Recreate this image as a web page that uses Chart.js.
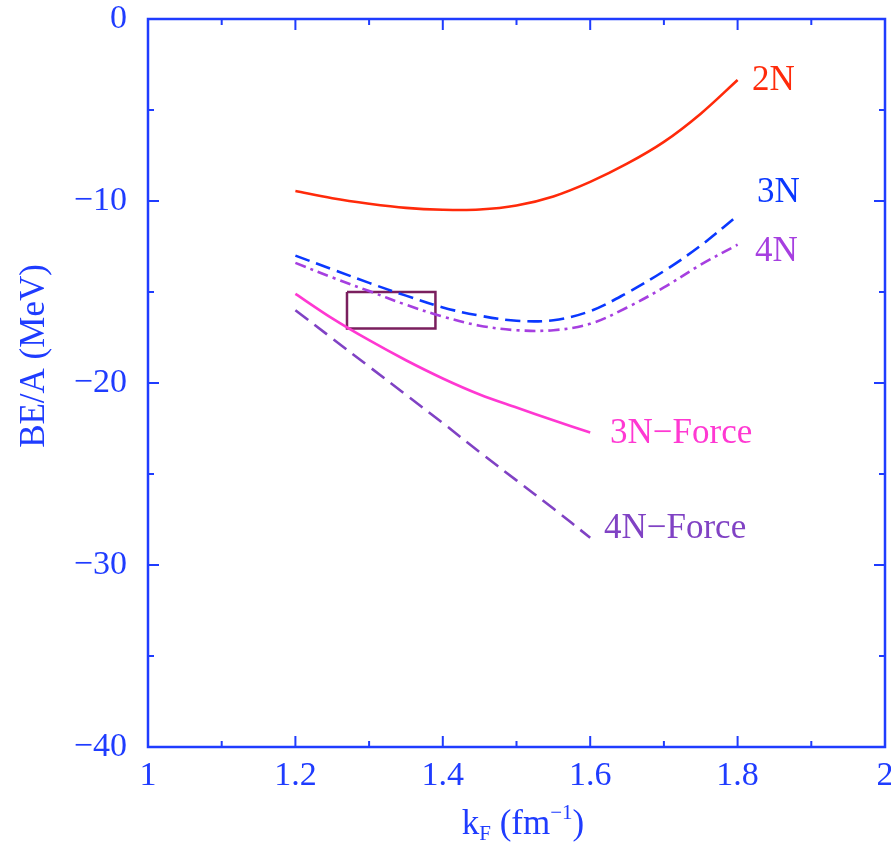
<!DOCTYPE html>
<html>
<head>
<meta charset="utf-8">
<script src="https://cdn.jsdelivr.net/npm/chart.js@4/dist/chart.umd.min.js"></script>
<style>
  html, body { margin: 0; padding: 0; background: #ffffff; }
  #wrap { width: 891px; height: 843px; }
</style>
</head>
<body>
<div id="wrap"><canvas id="c" width="891" height="843"></canvas></div>
<script>
// ---- data ----
const kF = [1.2, 1.25, 1.3, 1.35, 1.4, 1.45, 1.5, 1.55, 1.6, 1.65, 1.7, 1.75, 1.8];
const be2N = [-9.45, -9.85, -10.15, -10.38, -10.48, -10.47, -10.25, -9.75, -8.95, -7.95, -6.75, -5.2, -3.35];
const be3N = [-13.0, -13.75, -14.5, -15.2, -15.85, -16.3, -16.58, -16.55, -16.05, -15.05, -13.85, -12.45, -10.8];
const be4N = [-13.4, -14.2, -14.95, -15.7, -16.35, -16.85, -17.1, -17.1, -16.75, -15.85, -14.75, -13.5, -12.4];

const kFForce = [1.2, 1.25, 1.3, 1.35, 1.4, 1.45, 1.5, 1.55, 1.6];
const be3NForce = [-15.1, -16.45, -17.65, -18.75, -19.75, -20.63, -21.35, -22.05, -22.72];
const be4NForce = [-16.0, -17.55, -19.1, -20.65, -22.2, -23.8, -25.35, -26.9, -28.5];

const boxX = [1.27, 1.39, 1.39, 1.27, 1.27];
const boxY = [-15, -15, -17, -17, -15];

const seriesNames = ['2N', '3N', '4N', '3N\u2212Force', '4N\u2212Force'];
const xTickValues = [1, 1.2, 1.4, 1.6, 1.8, 2];
const yTickValues = [0, -10, -20, -30, -40];

// ---- styling ----
const AXIS = '#1f3cff';
const COLORS = ['#ff2a0a', '#0a38ff', '#a63fe0', '#ff38d2', '#8042c4'];
const BOXCOLOR = '#7a1f5e';
const FONT = '"Liberation Serif", "Times New Roman", serif';

function pts(xs, ys) { return xs.map((x, i) => ({ x: x, y: ys[i] })); }

// curve-label anchors (data coordinates, left edge / vertical centre)
const labelAnchors = [
  { x: 1.8195, y: -3.24 },
  { x: 1.8263, y: -9.37 },
  { x: 1.8236, y: -12.66 },
  { x: 1.6269, y: -22.66 },
  { x: 1.6187, y: -27.88 }
];

const decor = {
  id: 'decor',
  afterDatasetsDraw(chart) {
    const ctx = chart.ctx;
    const xs = chart.scales.x, ys = chart.scales.y;
    const a = chart.chartArea;
    ctx.save();
    // frame
    ctx.strokeStyle = AXIS;
    ctx.lineWidth = 2.5;
    ctx.strokeRect(a.left, a.top, a.right - a.left, a.bottom - a.top);
    // ticks (inward, mirrored)
    ctx.lineWidth = 2;
    ctx.beginPath();
    for (let v = 1.0; v <= 2.0001; v += 0.1) {
      const major = Math.abs(Math.round(v * 10) % 2) === 0;
      const L = major ? 11 : 6;
      const px = xs.getPixelForValue(v);
      ctx.moveTo(px, a.bottom); ctx.lineTo(px, a.bottom - L);
      ctx.moveTo(px, a.top); ctx.lineTo(px, a.top + L);
    }
    for (let v = 0; v >= -40; v -= 5) {
      const major = v % 10 === 0;
      const L = major ? 11 : 6;
      const py = ys.getPixelForValue(v);
      ctx.moveTo(a.left, py); ctx.lineTo(a.left + L, py);
      ctx.moveTo(a.right, py); ctx.lineTo(a.right - L, py);
    }
    ctx.stroke();

    // curve labels
    ctx.font = '35px ' + FONT;
    ctx.textAlign = 'left';
    ctx.textBaseline = 'alphabetic';
    seriesNames.forEach((name, i) => {
      ctx.fillStyle = COLORS[i];
      const p = labelAnchors[i];
      ctx.fillText(name, xs.getPixelForValue(p.x), ys.getPixelForValue(p.y) + 12);
    });

    // axis titles
    ctx.fillStyle = AXIS;
    ctx.save();
    ctx.translate(44, 356);
    ctx.rotate(-Math.PI / 2);
    ctx.textAlign = 'center';
    ctx.font = '35px ' + FONT;
    ctx.fillText('BE/A (MeV)', 0, 0);
    ctx.restore();
    const big = '35px ' + FONT, small = '21px ' + FONT;
    const parts = [
      { t: 'k', f: big, dy: 0 },
      { t: 'F', f: small, dy: 6 },
      { t: ' (fm', f: big, dy: 0 },
      { t: '\u22121', f: small, dy: -15 },
      { t: ')', f: big, dy: 0 }
    ];
    let total = 0;
    parts.forEach(p => { ctx.font = p.f; p.w = ctx.measureText(p.t).width; total += p.w; });
    let x = 523 - total / 2;
    const base = 834;
    ctx.textAlign = 'left';
    parts.forEach(p => { ctx.font = p.f; ctx.fillText(p.t, x, base + p.dy); x += p.w; });
    ctx.restore();
  }
};

const lineDefaults = { showLine: true, pointRadius: 0, fill: false, tension: 0.35, borderWidth: 2.6 };

new Chart(document.getElementById('c'), {
  type: 'scatter',
  data: {
    datasets: [
      Object.assign({}, lineDefaults, { label: seriesNames[0], data: pts(kF, be2N), borderColor: COLORS[0] }),
      Object.assign({}, lineDefaults, { label: seriesNames[1], data: pts(kF, be3N), borderColor: COLORS[1], borderDash: [15, 7] }),
      Object.assign({}, lineDefaults, { label: seriesNames[2], data: pts(kF, be4N), borderColor: COLORS[2], borderDash: [11, 5, 3, 5] }),
      Object.assign({}, lineDefaults, { label: seriesNames[3], data: pts(kFForce, be3NForce), borderColor: COLORS[3] }),
      Object.assign({}, lineDefaults, { label: seriesNames[4], data: pts(kFForce, be4NForce), borderColor: COLORS[4], borderDash: [16, 8] }),
      { label: 'box', data: pts(boxX, boxY), showLine: true, pointRadius: 0, tension: 0, borderColor: BOXCOLOR, borderWidth: 2.5, fill: false }
    ]
  },
  options: {
    responsive: false,
    animation: false,
    devicePixelRatio: 1,
    layout: { padding: { top: 19, right: 6, left: 0, bottom: 0 } },
    plugins: { legend: { display: false }, tooltip: { enabled: false } },
    scales: {
      x: {
        type: 'linear', min: 1, max: 2,
        grid: { display: false, drawTicks: false },
        border: { display: false },
        afterBuildTicks: s => { s.ticks = xTickValues.map(v => ({ value: v })); },
        ticks: {
          color: AXIS, font: { family: FONT, size: 34 }, padding: 9,
          maxRotation: 0, autoSkip: false,
          callback: v => String(Math.round(v * 10) / 10)
        },
        afterFit: s => { s.height = 843 - 747; s.paddingRight = 0; s.paddingLeft = 0; }
      },
      y: {
        type: 'linear', min: -40, max: 0,
        grid: { display: false, drawTicks: false },
        border: { display: false },
        afterBuildTicks: s => { s.ticks = yTickValues.map(v => ({ value: v })); },
        ticks: {
          color: AXIS, font: { family: FONT, size: 34 }, padding: 21,
          autoSkip: false,
          callback: v => (v < 0 ? '\u2212' + Math.abs(v) : String(v))
        },
        afterFit: s => { s.width = 148; s.paddingTop = 0; s.paddingBottom = 0; }
      }
    }
  },
  plugins: [decor]
});
</script>
</body>
</html>
